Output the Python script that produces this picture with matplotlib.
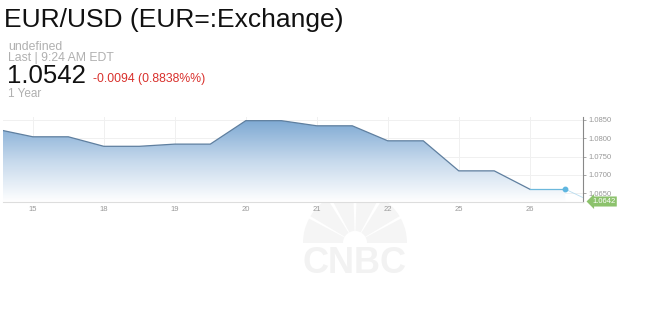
import numpy as np
import matplotlib.pyplot as plt
from matplotlib.colors import LinearSegmentedColormap
from matplotlib.patches import Polygon, Wedge

plt.rcParams['font.family'] = ['Liberation Sans', 'DejaVu Sans']

# Data (x in trading-day slots, tick i = label i)
x_pos = [-0.42, 0, 0.5, 1, 1.5, 2, 2.5, 3, 3.5, 4, 4.5, 5, 5.5, 6, 6.5, 7, 7.5]
rate = [1.0821, 1.0804, 1.0804, 1.0778, 1.0778, 1.0784, 1.0784, 1.0848, 1.0848,
        1.0834, 1.0834, 1.0793, 1.0793, 1.0711, 1.0711, 1.0661, 1.0661]
day_labels = ['15', '18', '19', '20', '21', '22', '25', '26']
y_ticks = [1.0650, 1.0700, 1.0750, 1.0800, 1.0850]
last_badge = '1.0642'

W, H = 645, 332
fig = plt.figure(figsize=(W / 100, H / 100), dpi=100)

def fx(px):
    return px / W

def fy(py):
    return 1 - py / H

# header texts
fig.text(fx(4), fy(27), 'EUR/USD (EUR=:Exchange)', fontsize=19, color='#111111')
fig.text(fx(8), fy(50), 'undefined', fontsize=8.8, color='#b0b0b0')
fig.text(fx(8), fy(61), 'Last | 9:24 AM EDT', fontsize=8.8, color='#b0b0b0')
fig.text(fx(7), fy(83), '1.0542', fontsize=18.5, color='#111111')
fig.text(fx(93), fy(82), '-0.0094 (0.8838%%)', fontsize=8.8, color='#d9302c')
fig.text(fx(8), fy(97), '1 Year', fontsize=8.5, color='#b0b0b0')

# CNBC watermark (peacock + wordmark, very faint)
wm = fig.add_axes([fx(290), fy(275), fx(130), 100 / H], zorder=0)
wm.set_xlim(0, 130)
wm.set_ylim(0, 100)
wm.axis('off')
for a0, a1 in [(0, 28), (31, 58), (62, 88), (92, 118), (122, 149), (152, 180)]:
    wm.add_patch(Wedge((65, 32), 52, a0, a1, width=40, facecolor='#f5f5f5', edgecolor='none'))
wm.text(65, 2, 'CNBC', fontsize=26, fontweight='bold', color='#f2f2f2', ha='center')

left, right, top, bottom = 3, 583, 117, 202
ax = fig.add_axes([fx(left), fy(bottom), fx(right - left), (bottom - top) / H])
ax.set_xlim(-0.42, 7.75)
ax.set_ylim(1.0626, 1.0858)
ax.patch.set_alpha(0)

# gradient area
y0 = ax.get_ylim()[0]
verts = [(x_pos[0], y0)] + list(zip(x_pos, rate)) + [(x_pos[-1], y0)]
poly = Polygon(verts, closed=True, facecolor='none', edgecolor='none')
ax.add_patch(poly)
cmap = LinearSegmentedColormap.from_list('fade', ['#ffffff', '#c6d9ec', '#7ea9d3'])
grad = np.linspace(0, 1, 256).reshape(-1, 1)
im = ax.imshow(grad, cmap=cmap, aspect='auto', origin='lower',
               extent=[x_pos[0], x_pos[-1], y0, max(rate)], zorder=1)
im.set_clip_path(poly)

ax.plot(x_pos[:-1], rate[:-1], color='#5f7f9f', lw=0.9, zorder=3)
ax.plot(x_pos[-2:], rate[-2:], color='#6cb8dc', lw=0.9, zorder=3)
ax.plot([x_pos[-1]], [rate[-1]], 'o', ms=3.2, color='#5fb6e0', zorder=4)
ax.plot([x_pos[-1], 7.75], [rate[-1], 1.0638], color='#b8dcef', lw=0.6, zorder=3)

ax.set_xticks(range(len(day_labels)))
ax.set_xticklabels(day_labels)
ax.set_yticks(y_ticks)
ax.set_yticklabels(['%.4f' % v for v in y_ticks])
ax.yaxis.tick_right()
ax.grid(True, color='#f0f0f0', lw=0.7, zorder=0)
ax.set_axisbelow(True)
ax.tick_params(axis='both', labelsize=5.5, colors='#999999', length=2, width=0.6)
ax.tick_params(axis='x', length=0, pad=3)
ax.tick_params(axis='y', pad=2)
for s in ['top', 'left']:
    ax.spines[s].set_visible(False)
ax.spines['bottom'].set_color('#dddddd')
ax.spines['right'].set_color('#888888')
ax.spines['right'].set_linewidth(0.8)

# last value badge
fig.text(fx(592), fy(201.5), last_badge, fontsize=5.5, color='white', va='center',
         bbox=dict(boxstyle='larrow,pad=0.2', fc='#8cc26c', ec='none'))

fig.savefig('out.png', dpi=100)
